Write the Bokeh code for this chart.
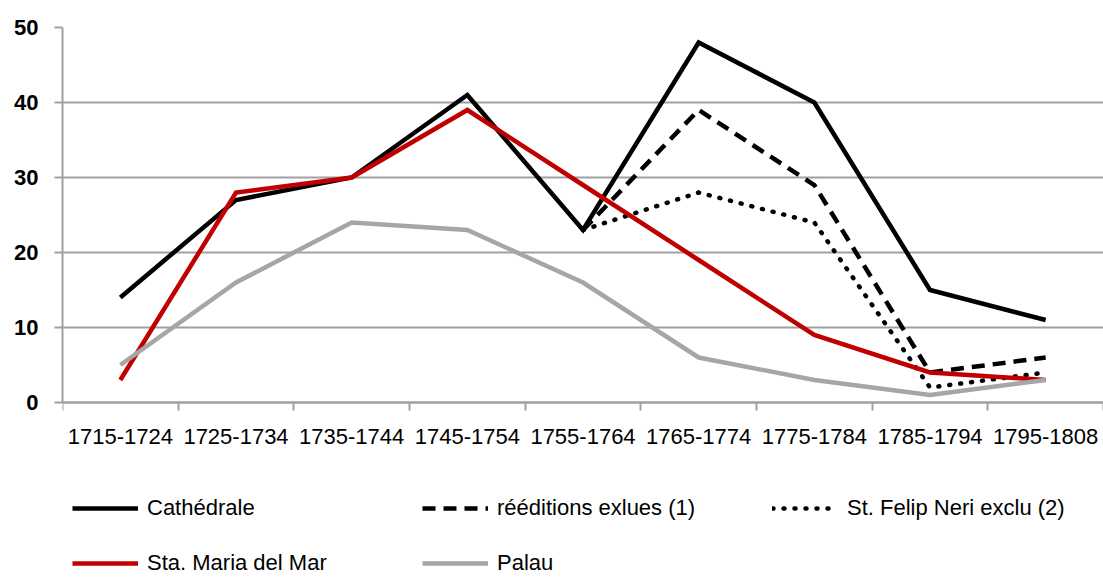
import numpy as np
from bokeh.plotting import figure
from bokeh.models import Range1d, FixedTicker, Legend, LegendItem
from bokeh.embed import file_html
from bokeh.resources import INLINE

categories = ["1715-1724", "1725-1734", "1735-1744", "1745-1754", "1755-1764",
              "1765-1774", "1775-1784", "1785-1794", "1795-1808"]
nan = float("nan")
cathedrale = [14, 27, 30, 41, 23, 48, 40, 15, 11]
reeditions = [nan, nan, nan, nan, 23, 39, 29, 4, 6]
felip_neri = [nan, nan, nan, nan, 23, 28, 24, 2, 4]
sta_maria = [3, 28, 30, 39, 29, 19, 9, 4, 3]
palau = [5, 16, 24, 23, 16, 6, 3, 1, 3]
y_ticks = [0, 10, 20, 30, 40, 50]

FONT = "'Liberation Sans Narrow', 'Arial Narrow', 'Liberation Sans', sans-serif"
GRID = "#a0a0a0"

x = [i + 0.5 for i in range(len(categories))]

# frame spans down to the page bottom; value 0 sits 175 px above it
PX_PER_UNIT = 375 / 50
y_low = -175 / PX_PER_UNIT

p = figure(frame_width=1041, frame_height=550, output_backend="svg",
           toolbar_location=None,
           x_range=Range1d(0, len(categories)), y_range=Range1d(y_low, 50),
           min_border_left=62, min_border_right=0, min_border_top=27,
           min_border_bottom=0)
p.outline_line_color = None
p.background_fill_color = "white"

# x axis drawn at value 0 inside the frame
p.xaxis.fixed_location = 0
p.xaxis.ticker = FixedTicker(ticks=x, minor_ticks=list(range(len(categories) + 1)))
p.xaxis.major_label_overrides = {xi: c for xi, c in zip(x, categories)}
p.xaxis.major_tick_out = 0
p.xaxis.major_tick_in = 0
p.xaxis.minor_tick_out = 8
p.xaxis.minor_tick_in = 0
p.xaxis.minor_tick_line_color = GRID
p.xaxis.minor_tick_line_width = 2
p.xaxis.axis_line_color = GRID
p.xaxis.axis_line_width = 2
p.xaxis.major_label_standoff = 18
p.xaxis.major_label_text_font = FONT
p.xaxis.major_label_text_font_size = "22px"
p.xaxis.major_label_text_color = "black"

p.yaxis.bounds = (0, 50)
p.yaxis.ticker = FixedTicker(ticks=y_ticks, minor_ticks=[])
p.yaxis.major_tick_out = 8
p.yaxis.major_tick_in = 0
p.yaxis.major_tick_line_color = GRID
p.yaxis.major_tick_line_width = 2
p.yaxis.axis_line_color = GRID
p.yaxis.axis_line_width = 2
p.yaxis.major_label_standoff = 16
p.yaxis.major_label_text_font = FONT
p.yaxis.major_label_text_font_style = "bold"
p.yaxis.major_label_text_font_size = "22px"
p.yaxis.major_label_text_color = "black"

p.xgrid.grid_line_color = None
p.ygrid.grid_line_color = GRID
p.ygrid.grid_line_width = 2
p.ygrid.ticker = FixedTicker(ticks=y_ticks)

LW = 4.5
r1 = p.line(x, cathedrale, line_color="black", line_width=LW, line_join="miter")
r2 = p.line(x, reeditions, line_color="black", line_width=LW, line_dash="13 8",
            line_join="miter")
r3 = p.line(x, felip_neri, line_color="black", line_width=LW, line_dash="1 10",
            line_cap="round", line_join="round")
r4 = p.line(x, sta_maria, line_color="#c00000", line_width=LW, line_join="miter")
r5 = p.line(x, palau, line_color="#a6a6a6", line_width=LW, line_join="miter")

legend = Legend(items=[
    LegendItem(label="Cathédrale", renderers=[r1]),
    LegendItem(label="rééditions exlues (1)", renderers=[r2]),
    LegendItem(label="St. Felip Neri exclu (2)", renderers=[r3]),
    LegendItem(label="Sta. Maria del Mar", renderers=[r4]),
    LegendItem(label="Palau", renderers=[r5]),
], location=(10, 1), orientation="horizontal", ncols=3)
legend.glyph_width = 66
legend.glyph_height = 26
legend.label_height = 26
legend.label_width = 246
legend.label_standoff = 9
legend.spacing = 29
legend.padding = 0
legend.margin = 0
legend.border_line_color = None
legend.background_fill_alpha = 0
legend.label_text_font = FONT
legend.label_text_font_size = "22px"
legend.label_text_color = "black"
p.add_layout(legend, "center")

open("out.html", "w").write(file_html(p, INLINE))
